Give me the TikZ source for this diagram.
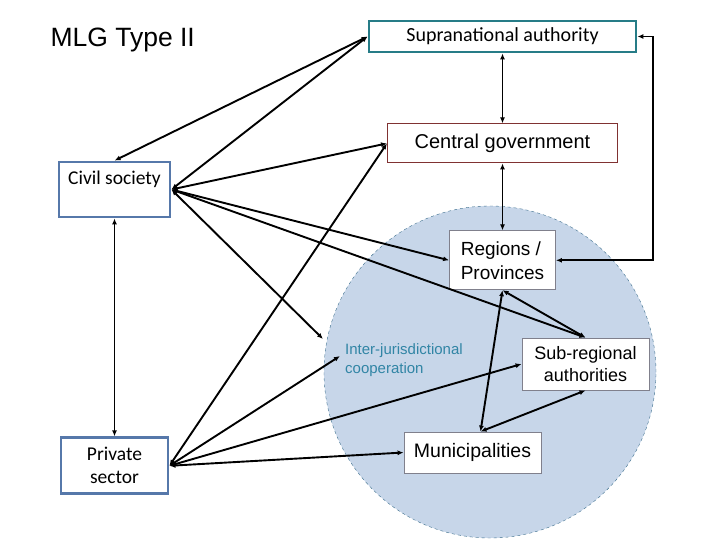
\documentclass[tikz,border=0pt]{standalone}
\usepackage{fontspec}
\setmainfont{Liberation Sans}
\newfontfamily\calibri{Carlito}
\usetikzlibrary{positioning,arrows.meta}

\definecolor{suprateal}{RGB}{38,124,135}
\definecolor{actorblue}{RGB}{86,120,170}
\definecolor{centralred}{RGB}{128,50,50}
\definecolor{levelgray}{RGB}{128,128,140}
\definecolor{coopblue}{RGB}{49,133,165}
\definecolor{circfill}{RGB}{199,214,233}
\definecolor{circline}{RGB}{60,110,140}

\begin{document}
\begin{tikzpicture}[x=1pt,y=-1pt,
box/.style={draw,fill=white,inner sep=0pt,align=center},
level/.style={box,draw=levelgray,line width=0.8pt,font=\fontsize{19}{23}\selectfont},
actor/.style={box,draw=actorblue,line width=2.8pt,font=\calibri\fontsize{19.5}{23}\selectfont},
link/.style={line width=1.9pt,{Latex[length=6pt,width=5pt]}-{Latex[length=6pt,width=5pt]}}]
\useasboundingbox (0,0) rectangle (720,540);
% jurisdictions of type II
\filldraw[fill=circfill,draw=circline,dashed,thin] (490,372) circle (166pt);
\node[anchor=base west,font=\fontsize{26.5}{30}\selectfont] (title) at (47,47) {MLG Type II};
\node[box,draw=suprateal,line width=2.8pt,minimum width=267pt,minimum height=31pt,
font=\calibri\fontsize{20}{24}\selectfont] (supra) at (502.5,36.5) {Supranational authority};
\node[box,draw=centralred,line width=1pt,minimum width=230pt,minimum height=39pt,
font=\fontsize{20}{24}\selectfont,below=70pt of supra] (central) {Central government};
\node[level,minimum width=106pt,minimum height=59pt,align=left,font=\fontsize{19}{24}\selectfont,
below=67pt of central] (regions) {Regions /\\Provinces};
\node[level,minimum width=127pt,minimum height=52pt,font=\fontsize{18}{22}\selectfont]
(subreg) at (585.5,364) {Sub-regional\\authorities};
\node[level,minimum width=137pt,minimum height=41pt,font=\fontsize{19.5}{23}\selectfont]
(munic) at (472.5,452.5) {Municipalities};
\node[actor,minimum width=111pt,inner ysep=4pt,text height=19pt,text depth=28pt]
(civil) at (114.5,189.5) {Civil society};
\node[actor,minimum width=107pt,minimum height=56pt,below=218pt of civil] (private) {Private\\sector};
\node[anchor=north west,align=left,text=coopblue,inner sep=0pt,font=\fontsize{15}{19}\selectfont]
(coop) at (345,343) {Inter-jurisdictional\\cooperation};
\coordinate (ij1) at (323,339);
\coordinate (ij2) at (340,356);
\coordinate (munictop) at ([xshift=8pt]munic.north);
% links
\draw[link] (civil.north) -- (supra.west);
\foreach \T in {supra.west,central.west,regions.west,subreg.north,ij1}
\draw[link] (civil.east) -- (\T);
\foreach \T in {central.west,ij2,subreg.west,munic.west}
\draw[link] (private.east) -- (\T);
\draw[link] (civil.south) -- (private.north);
\draw[link] (supra.south) -- (central.north);
\draw[link] (central.south) -- (regions.north);
\draw[link] (regions.south) -- (subreg.north);
\draw[link] (regions.south) -- (munictop);
\draw[link] (subreg.south) -- (munictop);
\draw[link] (supra.east) -- ++(16,0) |- (regions.east);
\end{tikzpicture}
\end{document}
